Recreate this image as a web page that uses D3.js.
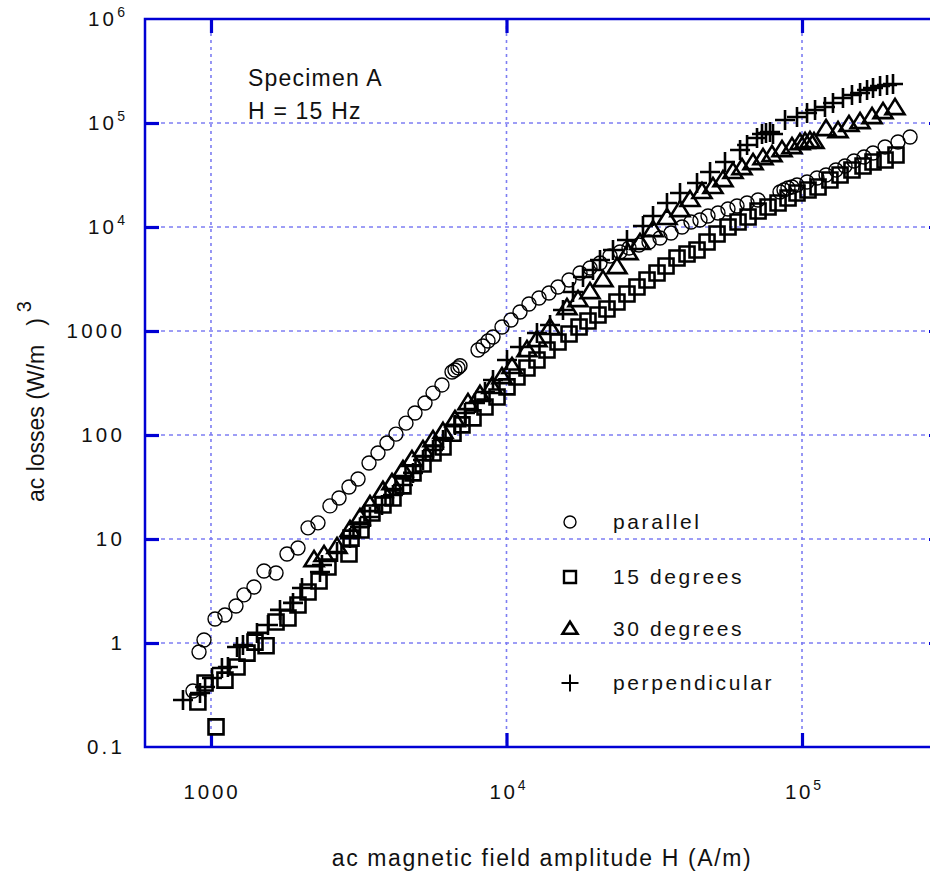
<!DOCTYPE html>
<html>
<head>
<meta charset="utf-8">
<script src="https://cdn.jsdelivr.net/npm/d3@7"></script>
<style>
  html, body { margin: 0; padding: 0; background: #fff; }
  svg { display: block; }
  text { font-family: "Liberation Sans", Arial, Helvetica, sans-serif; fill: #111; }
</style>
</head>
<body>
<svg id="chart" width="930" height="873"></svg>
<script>
// ---- measured ac losses, Specimen A ----
// H : ac magnetic field amplitude (A/m), P : ac losses (W/m^3)
const parallelH = [869, 911, 947, 1032, 1115, 1215, 1293, 1398, 1511, 1660, 1808, 1970, 2130, 2302, 2527, 2712, 2931, 3145, 3426, 3674, 3940, 4227, 4570, 4902, 5300, 5641, 6048, 6540, 6693, 6853, 6960, 8010, 8327, 8659, 9002, 9656, 10357, 11110, 11916, 12882, 13925, 14939, 16275, 17736, 19170, 20724, 22404, 24220, 25980, 28080, 30360, 33070, 36040, 39270, 42110, 45160, 48070, 51960, 56170, 60260, 65160, 71000, 84250, 86910, 89650, 92500, 96180, 104000, 112400, 120600, 130300, 139800, 150000, 162200, 173900, 191000, 211300, 232100];
const parallelP = [0.345, 0.82, 1.07, 1.70, 1.86, 2.27, 2.90, 3.45, 4.92, 4.71, 7.17, 8.19, 12.8, 14.3, 20.8, 24.8, 31.6, 37.8, 53.8, 67.1, 83.8, 102, 130, 163, 203, 253, 303, 403, 422, 442, 463, 656, 718, 801, 876, 1092, 1276, 1524, 1818, 2075, 2318, 2648, 3090, 3611, 4035, 4508, 5262, 5754, 6281, 6714, 7178, 7834, 8750, 10000, 11170, 11690, 12760, 13640, 14900, 15920, 17020, 18190, 21720, 22700, 23710, 24260, 25350, 27080, 29580, 31620, 35320, 38610, 43140, 47100, 51500, 58750, 65690, 73400];

const deg15H = [1040, 903, 955, 1115, 1225, 1324, 1409, 1536, 1660, 1822, 1970, 2130, 2321, 2488, 2931, 2978, 3218, 3505, 3819, 4129, 4464, 4827, 5218, 5641, 6098, 6592, 7070, 7703, 8457, 9289, 10040, 10850, 11730, 12680, 13710, 14940, 16280, 17600, 18870, 20400, 21880, 23650, 25570, 27640, 29890, 32310, 34660, 37760, 40820, 44130, 47710, 51580, 56190, 60750, 65680, 71010, 76740, 82970, 89690, 96180, 104800, 113300, 124300, 134500, 147600, 160900, 173900, 191000, 208000];
const deg15P = [0.156, 0.271, 0.412, 0.44, 0.588, 0.80, 1.02, 0.94, 1.59, 1.74, 2.32, 3.09, 3.94, 5.38, 7.18, 10.2, 12.2, 17.8, 21.2, 24.8, 32.4, 43.2, 52.7, 67.1, 76.7, 104, 125, 146, 186, 232, 290, 361, 441, 526, 656, 783, 935, 1092, 1247, 1425, 1629, 1901, 2268, 2648, 3090, 3611, 4217, 5035, 5500, 6010, 7178, 8570, 10000, 11170, 12470, 14250, 15570, 17020, 19010, 21220, 22700, 24260, 28310, 31620, 35320, 38610, 42170, 44060, 49240];

const deg30H = [2232, 2413, 2670, 2954, 3193, 3452, 3819, 4098, 4464, 4788, 5218, 5641, 6098, 6694, 7408, 8134, 8931, 9656, 10440, 11730, 12680, 14040, 16020, 17460, 19170, 21210, 23650, 25780, 28300, 31320, 34920, 38650, 41780, 45870, 49970, 54030, 58410, 62660, 68280, 73800, 79150, 85570, 92500, 98450, 102400, 106400, 109800, 120600, 132400, 144200, 157200, 172600, 188000, 206400];
const deg30P = [6.28, 7.02, 8.38, 12.2, 15.9, 21.2, 29.0, 34.5, 46.0, 57.5, 71.8, 89.5, 107, 139, 203, 243, 290, 361, 451, 656, 819, 1069, 1664, 1986, 2371, 3090, 4121, 5623, 7022, 9354, 12210, 14560, 18190, 21720, 24260, 28310, 33810, 36900, 41240, 46030, 49240, 54950, 58750, 64230, 65690, 67120, 65690, 87570, 83750, 95710, 102200, 114200, 127500, 139400];

const perpH = [804, 918, 955, 1008, 1089, 1141, 1225, 1283, 1431, 1559, 1712, 1895, 2032, 2338, 2375, 2670, 2954, 3193, 3452, 3791, 4129, 4464, 4827, 5218, 5641, 6098, 6694, 7237, 7824, 8457, 9002, 10040, 11110, 12680, 14040, 15530, 16790, 18150, 19620, 20720, 22930, 25570, 28960, 31320, 34920, 38650, 44130, 48840, 54880, 61710, 65180, 70430, 73220, 75530, 77940, 79780, 87610, 96180, 104000, 110700, 119600, 127300, 137600, 147600, 157200, 166000, 173900, 183700, 194000, 203200];
const perpP = [0.283, 0.330, 0.378, 0.46, 0.575, 0.588, 0.915, 0.957, 1.25, 1.49, 2.08, 2.43, 3.38, 4.82, 5.62, 7.50, 10.2, 13.0, 16.3, 21.2, 26.5, 33.0, 43.2, 57.5, 71.8, 89.5, 125, 163, 203, 259, 338, 526, 702, 957, 1143, 1592, 2371, 3304, 3861, 4817, 6010, 7499, 10230, 12760, 17020, 21220, 26480, 33810, 42170, 54950, 61400, 71770, 78330, 80130, 81890, 78330, 106900, 114200, 124800, 133400, 142500, 155700, 173900, 185800, 194100, 207400, 217400, 227100, 231800, 237100];

// ---- axes ----
const xTicks = [1e3, 1e4, 1e5];
const xTickText = ["1000", "10", "10"];
const xTickSup = ["", "4", "5"];
const yTicks = [0.1, 1, 10, 100, 1e3, 1e4, 1e5, 1e6];
const yTickText = ["0.1", "1", "10", "100", "1000", "10", "10", "10"];
const yTickSup = ["", "", "", "", "", "4", "5", "6"];

const seriesNames = ["parallel", "15 degrees", "30 degrees", "perpendicular"];
const seriesShapes = ["circle", "square", "triangle", "plus"];

const svg = d3.select("#chart");
const plot = { left: 145, top: 19, right: 943, bottom: 747 };

const x = d3.scaleLog().domain([598, 300000]).range([plot.left, plot.right]);
const y = d3.scaleLog().domain([0.1, 1e6]).range([plot.bottom, plot.top]);

const frameBlue = "#0000d4";

// grid
const grid = svg.append("g");
grid.selectAll("line.h").data(yTicks.filter(v => v > 0.1 && v < 1e6)).join("line")
  .attr("x1", plot.left).attr("x2", plot.right)
  .attr("y1", d => y(d)).attr("y2", d => y(d))
  .attr("stroke", "#3c3cec").attr("stroke-width", 1).attr("stroke-dasharray", "4,4");
grid.selectAll("line.v").data(xTicks).join("line")
  .attr("y1", plot.top).attr("y2", plot.bottom)
  .attr("x1", d => x(d)).attr("x2", d => x(d))
  .attr("stroke", "#7d7df2").attr("stroke-width", 1.6).attr("stroke-dasharray", "3,4");

// frame
svg.append("rect")
  .attr("x", plot.left).attr("y", plot.top)
  .attr("width", plot.right - plot.left).attr("height", plot.bottom - plot.top)
  .attr("fill", "none").attr("stroke", frameBlue).attr("stroke-width", 2.5);

// inward ticks on all four sides
function styleTicks(g) {
  g.select(".domain").remove();
  g.selectAll(".tick line").attr("stroke", frameBlue).attr("stroke-width", 3.2);
  g.selectAll(".tick text").remove();
}
const tick = 14;
svg.append("g").attr("transform", `translate(0,${plot.bottom})`)
  .call(d3.axisBottom(x).tickValues(xTicks).tickSize(-tick).tickFormat("")).call(styleTicks);
svg.append("g").attr("transform", `translate(0,${plot.top})`)
  .call(d3.axisTop(x).tickValues(xTicks).tickSize(-tick).tickFormat("")).call(styleTicks);
svg.append("g").attr("transform", `translate(${plot.left},0)`)
  .call(d3.axisLeft(y).tickValues(yTicks.slice(1, -1)).tickSize(-tick).tickFormat("")).call(styleTicks);
svg.append("g").attr("transform", `translate(${plot.right},0)`)
  .call(d3.axisRight(y).tickValues(yTicks.slice(1, -1)).tickSize(-tick).tickFormat("")).call(styleTicks);

// tick labels
function label(sel, txt, sup) {
  sel.append("tspan").text(txt);
  if (sup) sel.append("tspan").attr("dy", -9).attr("font-size", 14).attr("letter-spacing", 0).text(sup);
}
yTicks.forEach((v, i) => {
  const t = svg.append("text")
    .attr("x", 125).attr("y", y(v) + 7)
    .attr("text-anchor", "end")
    .attr("font-size", 20.5).attr("letter-spacing", 3.2);
  label(t, yTickText[i], yTickSup[i]);
});
xTicks.forEach((v, i) => {
  const t = svg.append("text")
    .attr("x", x(v) + 1).attr("y", 799)
    .attr("text-anchor", "middle")
    .attr("font-size", 20.5).attr("letter-spacing", 2.8);
  label(t, xTickText[i], xTickSup[i]);
});

// axis titles
svg.append("text")
  .attr("x", 542).attr("y", 866).attr("text-anchor", "middle")
  .attr("font-size", 23).attr("letter-spacing", 1.6)
  .text("ac magnetic field amplitude H (A/m)");
const yTitle = svg.append("text")
  .attr("transform", "translate(44,502) rotate(-90)")
  .attr("font-size", 23);
yTitle.append("tspan").text("ac losses (W/m");
yTitle.append("tspan").attr("dx", 19).text(")");
yTitle.append("tspan").attr("dx", 6).attr("dy", -13).attr("font-size", 20).text("3");

// annotation
svg.append("text").attr("x", 248).attr("y", 86)
  .attr("font-size", 23).attr("letter-spacing", 1.2).text("Specimen A");
svg.append("text").attr("x", 248).attr("y", 119)
  .attr("font-size", 23).attr("letter-spacing", 1.2).text("H = 15 Hz");

// marker shapes
function shapePath(shape, s) {
  const h = s / 2;
  switch (shape) {
    case "circle": return `M${h},0A${h},${h} 0 1,1 ${-h},0A${h},${h} 0 1,1 ${h},0Z`;
    case "square": return `M${-h},${-h}H${h}V${h}H${-h}Z`;
    case "triangle": { const th = s * 0.8; return `M0,${-th * 0.6}L${h},${th * 0.4}L${-h},${th * 0.4}Z`; }
    case "plus": return `M${-h},0H${h}M0,${-h}V${h}`;
  }
}
const markerSize = { circle: 14, square: 15, triangle: 19, plus: 20 };
const markerStroke = { circle: 1.4, square: 2.6, triangle: 2.6, plus: 2.6 };

const seriesH = [parallelH, deg15H, deg30H, perpH];
const seriesP = [parallelP, deg15P, deg30P, perpP];

const marks = svg.append("g");
seriesShapes.forEach((shape, k) => {
  const pts = seriesH[k].map((h, i) => [h, seriesP[k][i]]);
  marks.append("g").selectAll("path").data(pts).join("path")
    .attr("transform", d => `translate(${x(d[0])},${y(d[1])})`)
    .attr("d", shapePath(shape, markerSize[shape]))
    .attr("fill", "none").attr("stroke", "#000")
    .attr("stroke-width", markerStroke[shape]);
});

// legend
const legendY = [522, 577, 629, 683];
const legendSize = { circle: 12, square: 12, triangle: 15, plus: 17 };
const legendStroke = { circle: 1.4, square: 2.4, triangle: 2.6, plus: 2 };
const legend = svg.append("g");
seriesNames.forEach((name, k) => {
  const shape = seriesShapes[k];
  legend.append("path")
    .attr("transform", `translate(570,${legendY[k]})`)
    .attr("d", shapePath(shape, legendSize[shape]))
    .attr("fill", "none").attr("stroke", "#000").attr("stroke-width", legendStroke[shape]);
  legend.append("text").attr("x", 613).attr("y", legendY[k] + 7)
    .attr("font-size", 21).attr("letter-spacing", 2.6).text(name);
});
</script>
</body>
</html>
